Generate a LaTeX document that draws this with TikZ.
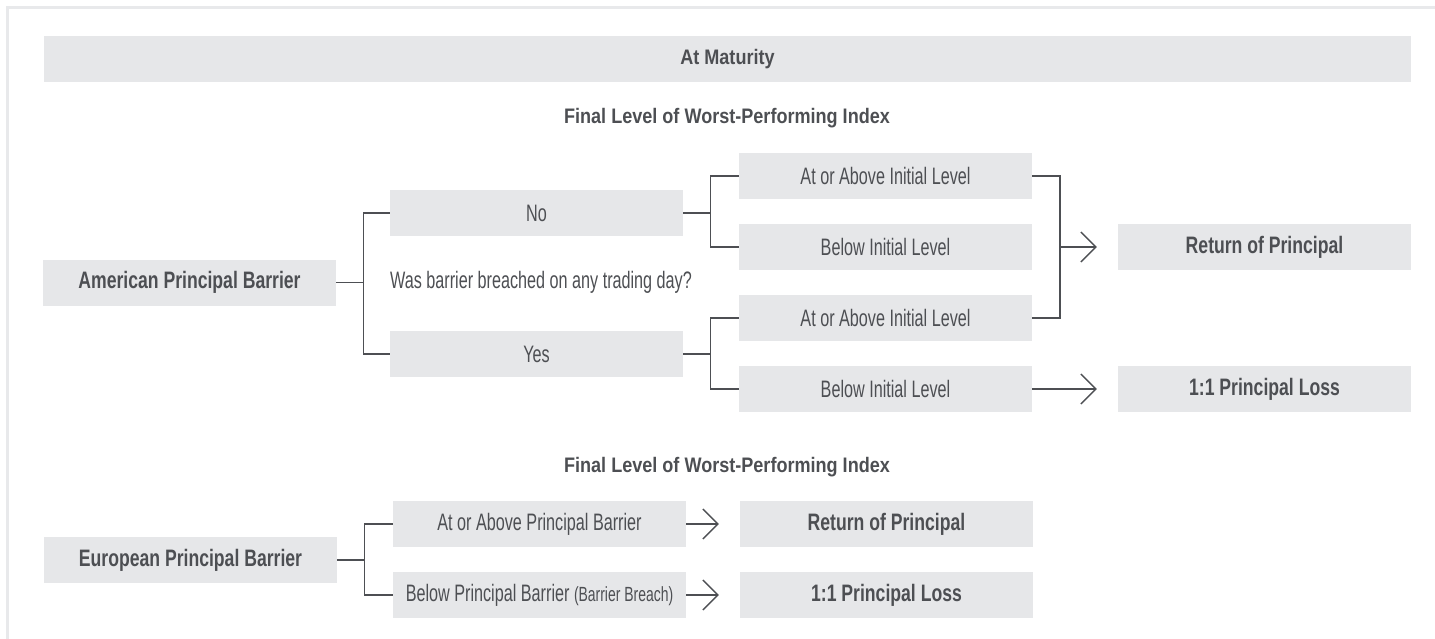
\documentclass[tikz,border=0pt]{standalone}
\usepackage{fontspec}
\setmainfont{Liberation Sans}[FakeStretch=0.68,BoldFeatures={FakeStretch=0.74}]
\newfontfamily\ttlfont{Liberation Sans}[FakeStretch=0.86]
\usetikzlibrary{arrows.meta}
\definecolor{boxgray}{HTML}{E6E7E9}
\definecolor{ink}{HTML}{4D4F53}
\definecolor{rulegray}{HTML}{E8E9EB}
\newcommand{\bx}{\fontsize{23.8}{28}\selectfont}

\begin{document}
\begin{tikzpicture}[x=1pt,y=-1pt,
  box/.style={fill=boxgray,minimum width=293pt,minimum height=46pt,inner sep=0pt,text=ink,font=\bx},
  hbox/.style={box,font=\bx\bfseries},
  ttl/.style={text=ink,font=\ttlfont\fontsize{21}{24}\selectfont\bfseries,inner sep=0pt},
  link/.style={draw=ink,line width=1.3pt},
  arr/.style={-{Straight Barb[length=15pt,width=30pt]}}]
\useasboundingbox (0,0) rectangle (1435,639);
\draw[rulegray,line width=3pt] (6,7.5) -- (1435,7.5);
\draw[rulegray,line width=3pt] (7.5,6) -- (7.5,639);

\node[hbox,minimum width=1367pt,font=\ttlfont\fontsize{21}{24}\selectfont\bfseries] (head) at (727.5,59) {At Maturity};
\node[ttl] (ttl1) at (727,118) {Final Level of Worst-Performing Index};

% american barrier
\node[hbox] (amer) at (189.5,282.5) {American Principal Barrier};
\node[box] (no) at (536.5,213) {No};
\node[box] (yes) at (536.5,354) {Yes};
\node[anchor=west,inner sep=0pt,text=ink,font=\bx] (quest) at (390,282) {Was barrier breached on any trading day?};
\node[box] (abv1) at (885.5,176) {At or Above Initial Level};
\node[box] (bel1) at (885.5,247) {Below Initial Level};
\node[box] (abv2) at (885.5,318) {At or Above Initial Level};
\node[box] (bel2) at (885.5,389) {Below Initial Level};
\node[hbox] (ret1) at (1264.5,247) {Return of Principal};
\node[hbox] (loss1) at (1264.5,389) {1:1 Principal Loss};

\draw[link] (amer.east) -- ++(27,0) coordinate (j1) (no.west) -| (j1) |- (yes.west);
\draw[link] (no.east) -- ++(27,0) coordinate (j2) (abv1.west) -| (j2) |- (bel1.west);
\draw[link] (yes.east) -- ++(27,0) coordinate (j4) (abv2.west) -| (j4) |- (bel2.west);
\coordinate (j3) at (1060,247);
\draw[link] (abv1.east) -| (j3) |- (abv2.east);
\draw[link,arr] (j3) -- ([xshift=-21pt]ret1.west);
\draw[link,arr] (bel2.east) -- ([xshift=-21pt]loss1.west);

% european barrier
\node[ttl] (ttl2) at (727,467) {Final Level of Worst-Performing Index};
\node[hbox] (euro) at (190.5,560) {European Principal Barrier};
\node[box] (abvpb) at (539.5,524) {At or Above Principal Barrier};
\node[box] (belpb) at (539.5,595) {Below Principal Barrier {\fontsize{20.5}{24}\selectfont(Barrier Breach)}};
\node[hbox] (ret2) at (886.5,524) {Return of Principal};
\node[hbox] (loss2) at (886.5,595) {1:1 Principal Loss};

\draw[link] (euro.east) -- ++(27,0) coordinate (j5) (abvpb.west) -| (j5) |- (belpb.west);
\draw[link,arr] (abvpb.east) -- ([xshift=-21pt]ret2.west);
\draw[link,arr] (belpb.east) -- ([xshift=-21pt]loss2.west);
\end{tikzpicture}
\end{document}
